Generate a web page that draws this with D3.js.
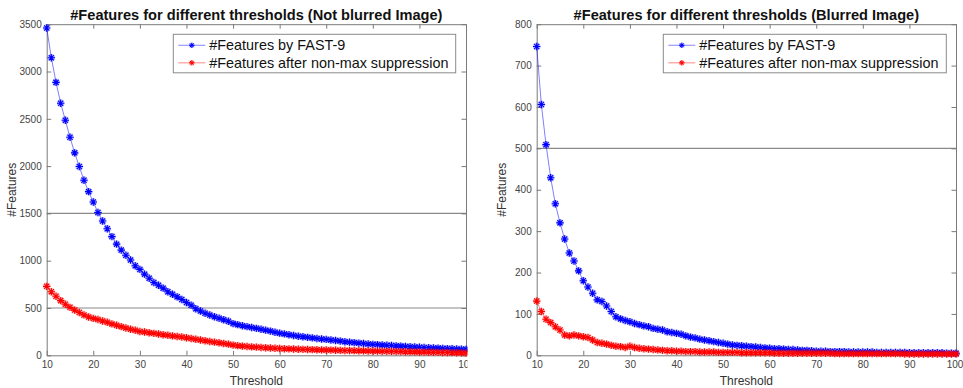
<!DOCTYPE html>
<html>
<head>
<meta charset="utf-8">
<script src="https://cdn.jsdelivr.net/npm/d3@7"></script>
<style>
  html, body { margin: 0; padding: 0; background: #fff; }
  svg { display: block; font-family: "Liberation Sans", Arial, Helvetica, sans-serif; }
</style>
</head>
<body>
<svg id="chart" width="963" height="388"></svg>
<script>
// FAST corner thresholds (x axis)
const thresholds = [10,11,12,13,14,15,16,17,18,19,20,21,22,23,24,25,26,27,28,29,30,
  31,32,33,34,35,36,37,38,39,40,41,42,43,44,45,46,47,48,49,50,
  51,52,53,54,55,56,57,58,59,60,61,62,63,64,65,66,67,68,69,70,
  71,72,73,74,75,76,77,78,79,80,81,82,83,84,85,86,87,88,89,90,
  91,92,93,94,95,96,97,98,99,100];

// Not blurred image: detections by FAST-9
const sharpFast = [3460,3145,2885,2665,2485,2305,2140,1995,1850,1730,1620,1510,1420,1338,1255,1175,1112,1058,1008,946,908,
  858,815,770,740,710,672,645,618,590,558,530,492,468,445,426,408,392,376,360,335,
  324,313,303,294,285,276,266,256,244,234,226,218,210,202,196,190,184,178,173,168,
  162,156,150,144,139,134,129,124,120,116,113,110,107,104,100,97,94,91,88,85,
  83,80,78,76,73,71,69,67,65,63];
// Not blurred image: after non-max suppression
const sharpNms = [729,672,624,578,540,507,478,453,427,405,390,378,363,349,332,317,303,289,276,265,252,
  246,239,232,225,218,212,205,199,194,186,178,170,162,154,146,139,132,125,118,108,
  102,97,93,89,86,83,80,77,74,72,70,68,66,64,63,61,60,58,57,56,
  55,54,52,51,50,49,48,47,46,45,44,43,42,41,40,39,38,37,36,35,
  34,33,32,31,30,29,28,27,26,25];

// Blurred image: detections by FAST-9
const blurFast = [746,606,509,429,366,320,281,247,228,204,180,165,150,134,130,119,106,93,88,84,81,
  77,74,71,69,65,63,61,57,55,53,51,47,44,42,39,37,35,33,31,29,
  27,25,24,23,22,21,20,19,18,17,16,16,15,14,14,13,12,12,11,10,
  10,10,9,9,9,9,8,8,8,8,8,8,7,7,7,7,7,7,7,6,
  6,6,6,6,6,6,6,5,5,5];
// Blurred image: after non-max suppression
const blurNms = [131,106,87,79,69,61,49,47,49,47,45,43,37,31,29,27,24,22,21,19,22,
  19,17,16,15,14,13,12,11,11,10,10,9,9,9,8,8,8,8,7,7,
  7,7,7,6,6,6,6,6,6,6,5,5,5,5,5,5,5,5,5,5,
  5,5,5,4,4,4,4,4,4,4,4,4,4,4,4,4,4,4,3,3,
  3,3,3,3,3,3,3,3,3,3];

const xTicks = [10,20,30,40,50,60,70,80,90,100];
const sharpYTicks = [0,500,1000,1500,2000,2500,3000,3500];
const blurYTicks = [0,100,200,300,400,500,600,700,800];
const sharpRefLines = [500,1500];
const blurRefLines = [500];

const seriesNames = ["#Features by FAST-9", "#Features after non-max suppression"];
const seriesColors = ["#0000ff", "#ff0000"];

const svg = d3.select("#chart");
const fmt = d3.format("d");

// Asterisk marker: a "+" and an "x" overlaid
function starPath(r) {
  const d = r * Math.SQRT1_2;
  return `M${-r},0L${r},0M0,${-r}L0,${r}M${-d},${-d}L${d},${d}M${-d},${d}L${d},${-d}`;
}
const STAR = starPath(3.7);

function drawPanel(cfg) {
  const g = svg.append("g");
  if (cfg.clipW) {
    const id = "clip" + cfg.id;
    svg.append("defs").append("clipPath").attr("id", id)
      .append("rect").attr("x", 0).attr("y", 0).attr("width", cfg.clipW).attr("height", 388);
    g.attr("clip-path", `url(#${id})`);
  }

  const x = d3.scaleLinear().domain([10, 100]).range([cfg.left, cfg.right]);
  const y = d3.scaleLinear().domain([0, cfg.yMax]).range([cfg.bottom, cfg.top]);

  const axisColor = "#7a7a7a";
  const labelColor = "#444";

  // reference lines
  g.selectAll(".ref").data(cfg.refs).enter().append("line")
    .attr("x1", cfg.left).attr("x2", cfg.right)
    .attr("y1", d => y(d)).attr("y2", d => y(d))
    .attr("stroke", "#8a8a8a").attr("stroke-width", 1.1);

  // axes (ticks inside, box on)
  const bottom = g.append("g").attr("transform", `translate(0,${cfg.bottom})`)
    .call(d3.axisBottom(x).tickValues(xTicks).tickFormat(fmt).tickSizeInner(-4.5).tickSizeOuter(0).tickPadding(6));
  const top = g.append("g").attr("transform", `translate(0,${cfg.top})`)
    .call(d3.axisTop(x).tickValues(xTicks).tickSizeInner(-4.5).tickSizeOuter(0).tickFormat(""));
  const leftA = g.append("g").attr("transform", `translate(${cfg.left},0)`)
    .call(d3.axisLeft(y).tickValues(cfg.yTicks).tickFormat(fmt).tickSizeInner(-4.5).tickSizeOuter(0).tickPadding(5));
  const rightA = g.append("g").attr("transform", `translate(${cfg.right},0)`)
    .call(d3.axisRight(y).tickValues(cfg.yTicks).tickSizeInner(-4.5).tickSizeOuter(0).tickFormat(""));
  [bottom, top, leftA, rightA].forEach(a => {
    a.select(".domain").attr("stroke", axisColor).attr("stroke-width", 1);
    a.selectAll(".tick line").attr("stroke", axisColor);
    a.selectAll(".tick text").attr("fill", labelColor)
      .style("font-size", "10px").style("font-family", '"Liberation Sans", Arial, sans-serif');
  });
  // keep the last x label inside the figure edge
  if (cfg.nudgeLast) {
    bottom.selectAll(".tick text").filter(d => d === 100).attr("dx", cfg.nudgeLast);
  }

  // series
  const line = d3.line().x((d, i) => x(thresholds[i])).y(d => y(d));
  cfg.series.forEach((vals, si) => {
    const col = seriesColors[si];
    g.append("path").datum(vals).attr("d", line)
      .attr("fill", "none").attr("stroke", col).attr("stroke-opacity", 0.5).attr("stroke-width", 1);
    const pts = g.append("g");
    pts.selectAll(".halo").data(vals).enter().append("path")
      .attr("d", STAR)
      .attr("transform", (d, i) => `translate(${x(thresholds[i])},${y(d)})`)
      .attr("stroke", col).attr("stroke-opacity", 0.25).attr("stroke-width", 3).attr("fill", "none");
    pts.selectAll(".mk").data(vals).enter().append("path")
      .attr("d", STAR)
      .attr("transform", (d, i) => `translate(${x(thresholds[i])},${y(d)})`)
      .attr("stroke", col).attr("stroke-width", 1.1).attr("fill", "none");
  });

  // title
  g.append("text").attr("x", (cfg.left + cfg.right) / 2).attr("y", 19.5)
    .attr("text-anchor", "middle").attr("fill", "#111")
    .style("font-weight", "bold").style("font-size", "14.6px")
    .style("font-family", '"Liberation Sans", Arial, sans-serif')
    .text(cfg.title);

  // axis labels
  g.append("text").attr("x", (cfg.left + cfg.right) / 2).attr("y", 384.5)
    .attr("text-anchor", "middle").attr("fill", "#333").style("font-size", "12px")
    .text("Threshold");
  g.append("text")
    .attr("transform", `translate(${cfg.left - 30.5},${(cfg.top + cfg.bottom) / 2}) rotate(-90)`)
    .attr("text-anchor", "middle").attr("fill", "#333").style("font-size", "12px")
    .text("#Features");

  // legend
  const lg = g.append("g").attr("transform", `translate(${cfg.legX},${cfg.legY})`);
  lg.append("rect").attr("x", 0).attr("y", 0).attr("width", cfg.legW).attr("height", 38.5)
    .attr("fill", "#fff").attr("stroke", "#8a8a8a").attr("stroke-width", 1);
  seriesNames.forEach((name, i) => {
    const cy = 11 + i * 17.5;
    lg.append("line").attr("x1", 5).attr("x2", 32).attr("y1", cy).attr("y2", cy)
      .attr("stroke", seriesColors[i]).attr("stroke-opacity", 0.4).attr("stroke-width", 1.2);
    lg.append("path").attr("d", starPath(2.6)).attr("transform", `translate(18.5,${cy})`)
      .attr("stroke", seriesColors[i]).attr("stroke-opacity", 0.3).attr("stroke-width", 2.5).attr("fill", "none");
    lg.append("path").attr("d", starPath(2.6)).attr("transform", `translate(18.5,${cy})`)
      .attr("stroke", seriesColors[i]).attr("stroke-width", 1).attr("fill", "none");
    lg.append("text").attr("x", 36).attr("y", cy + 5).attr("fill", "#111")
      .style("font-size", "14.4px").text(name);
  });
}

drawPanel({
  id: "a", left: 46.7, right: 466, top: 24.2, bottom: 355.3, yMax: 3500,
  yTicks: sharpYTicks, refs: sharpRefLines, series: [sharpFast, sharpNms],
  title: "#Features for different thresholds (Not blurred Image)",
  legX: 173.3, legY: 34.3, legW: 282.4, clipW: 467.5
});
drawPanel({
  id: "b", left: 536.7, right: 956, top: 24.2, bottom: 355.3, yMax: 800,
  yTicks: blurYTicks, refs: blurRefLines, series: [blurFast, blurNms],
  title: "#Features for different thresholds (Blurred Image)",
  legX: 663.3, legY: 34.3, legW: 283, nudgeLast: -1.5
});
</script>
</body>
</html>
